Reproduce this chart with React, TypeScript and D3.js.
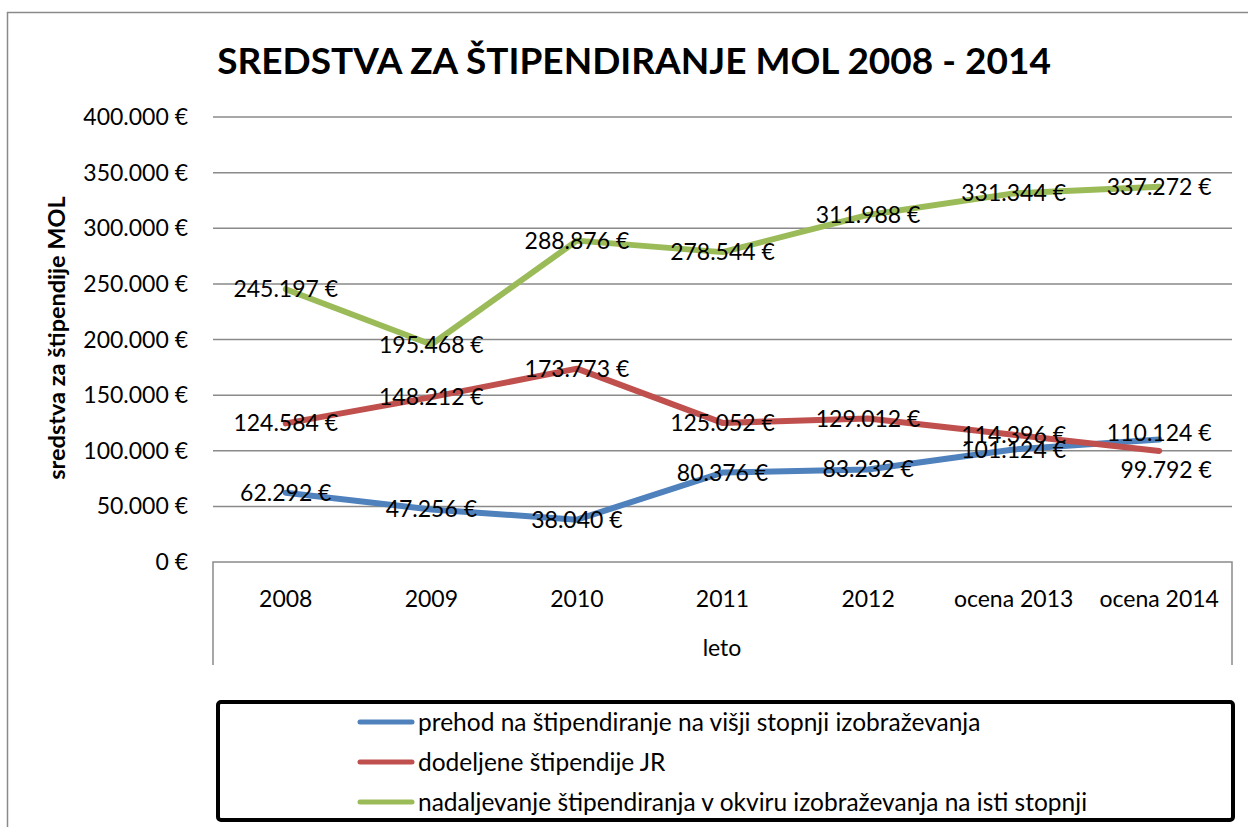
import React from "react";
import * as d3 from "d3";

const categories = ["2008", "2009", "2010", "2011", "2012", "ocena 2013", "ocena 2014"];
const seriesNames = [
  "prehod na štipendiranje na višji stopnji izobraževanja",
  "dodeljene štipendije JR",
  "nadaljevanje štipendiranja v okviru izobraževanja na isti stopnji",
];
const blueValues = [62292, 47256, 38040, 80376, 83232, 101124, 110124];
const redValues = [124584, 148212, 173773, 125052, 129012, 114396, 99792];
const greenValues = [245197, 195468, 288876, 278544, 311988, 331344, 337272];
const yTicks = [0, 50000, 100000, 150000, 200000, 250000, 300000, 350000, 400000];
const colors = ["#4F81BD", "#C0504D", "#9BBB59"];

// label nudges (pixels) for overlapping end labels: [series][index] -> [dx, dy]
const labelNudges: Record<string, [number, number]> = {
  "0-6": [0, -7],
  "1-6": [7, 19],
};

const W = 1248;
const H = 827;
const FONT = "Lato, 'Open Sans', sans-serif";

function fmt(v: number): string {
  const s = d3.format(",")(v).replace(/,/g, ".");
  return s + " €";
}

export default function App() {
  const left = 213, right = 1232, top = 117, bottom = 562;
  const x = d3.scalePoint<string>().domain(categories).range([left, right]).padding(0.5);
  const y = d3.scaleLinear().domain([0, 400000]).range([bottom, top]);
  const series = [blueValues, redValues, greenValues];
  const line = d3
    .line<number>()
    .x((_, i) => x(categories[i]) as number)
    .y((d) => y(d));

  return (
    <svg
      width={W}
      height={H}
      style={{ position: "absolute", left: 0, top: 0, background: "#fff" }}
      fontFamily={FONT}
    >
      <rect x={0} y={0} width={W} height={H} fill="#fff" />
      {/* outer chart border */}
      <rect x={7.5} y={12.5} width={W + 20} height={H + 20} fill="none" stroke="#8a8a8a" strokeWidth={1.5} />

      {/* title */}
      <text x={634} y={74} textAnchor="middle" fontSize={37} fontWeight="bold" fill="#000">
        SREDSTVA ZA ŠTIPENDIRANJE MOL 2008 - 2014
      </text>

      {/* gridlines & y ticks */}
      {yTicks.map((t) => (
        <g key={t}>
          {t > 0 && (
            <line x1={left} x2={right} y1={y(t)} y2={y(t)} stroke="#8a8a8a" strokeWidth={1.5} />
          )}
          <text x={188} y={y(t)} dy="0.35em" textAnchor="end" fontSize={23} fill="#000">
            {fmt(t)}
          </text>
        </g>
      ))}

      {/* x axis frame */}
      <path
        d={`M${left},665 V${bottom} H${right} V665`}
        fill="none"
        stroke="#8a8a8a"
        strokeWidth={1.5}
      />
      {categories.map((c) => (
        <text key={c} x={x(c)} y={599} dy="0.35em" textAnchor="middle" fontSize={23} fill="#000">
          {c}
        </text>
      ))}
      <text x={722} y={648} dy="0.35em" textAnchor="middle" fontSize={23} fill="#000">
        leto
      </text>

      {/* y axis title */}
      <text
        transform={`translate(57,338) rotate(-90)`}
        dy="0.35em"
        textAnchor="middle"
        fontSize={23.5}
        fontWeight="bold"
        fill="#000"
      >
        sredstva za štipendije MOL
      </text>

      {/* lines */}
      {series.map((vals, si) => (
        <path
          key={si}
          d={line(vals) as string}
          fill="none"
          stroke={colors[si]}
          strokeWidth={6}
          strokeLinecap="round"
          strokeLinejoin="round"
        />
      ))}

      {/* data labels */}
      {series.map((vals, si) =>
        vals.map((v, i) => {
          const n = labelNudges[`${si}-${i}`] || [0, 0];
          return (
            <text
              key={`${si}-${i}`}
              x={(x(categories[i]) as number) + n[0]}
              y={y(v) + n[1]}
              dy="0.35em"
              textAnchor="middle"
              fontSize={23}
              fill="#000"
            >
              {fmt(v)}
            </text>
          );
        })
      )}

      {/* legend */}
      <rect x={218} y={702} width={1015} height={118} rx={3} fill="#fff" stroke="#000" strokeWidth={4} />
      {seriesNames.map((name, i) => (
        <g key={name}>
          <line
            x1={360}
            x2={412}
            y1={722 + i * 40}
            y2={722 + i * 40}
            stroke={colors[i]}
            strokeWidth={5}
            strokeLinecap="round"
          />
          <text x={418} y={722 + i * 40} dy="0.35em" fontSize={24.5} fill="#000">
            {name}
          </text>
        </g>
      ))}
    </svg>
  );
}
